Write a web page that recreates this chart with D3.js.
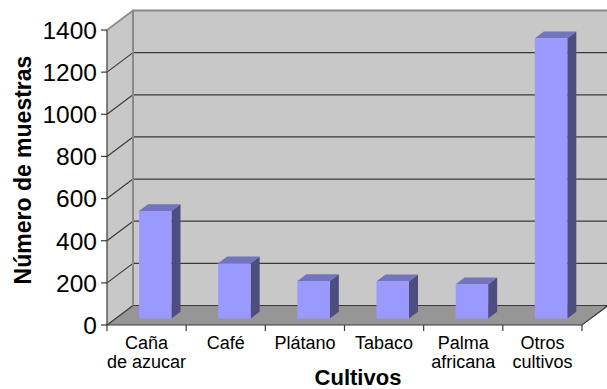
<!DOCTYPE html>
<html>
<head>
<meta charset="utf-8">
<script src="https://cdn.jsdelivr.net/npm/d3@7"></script>
<style>
  html, body { margin: 0; padding: 0; background: #ffffff; }
  svg { display: block; font-family: "Liberation Sans", Arial, sans-serif; }
</style>
</head>
<body>
<svg id="chart" width="607" height="389"></svg>
<script>
// Crop sample counts
const categories = ["Caña\nde azucar", "Café", "Plátano", "Tabaco", "Palma\nafricana", "Otros\ncultivos"];
const values = [510, 262, 178, 177, 162, 1330];
const yTicks = [0, 200, 400, 600, 800, 1000, 1200, 1400];
const yTitle = "Número de muestras";
const xTitle = "Cultivos";

const svg = d3.select("#chart");

// Front plane of the plot and the depth vector to the back wall
const plotLeft = 107, plotRight = 582, plotBottom = 325, plotTop = 30;
const depth = { dx: 26, dy: -19.5 };

const y = d3.scaleLinear().domain([0, 1400]).range([plotBottom, plotTop]);
const x = d3.scaleBand().domain(d3.range(categories.length))
  .range([plotLeft, plotRight]).paddingInner(0.59).paddingOuter(0.295);
const edge = d3.scaleLinear().domain([0, categories.length]).range([plotLeft, plotRight]);

const off = (p, f) => [p[0] + depth.dx * f, p[1] + depth.dy * f];
const poly = pts => pts.map(p => p.join(",")).join(" ");

const wallFill = "#c8c8c8", floorFill = "#969696", frameStroke = "#8a8a8a";

// Back wall
const bx0 = plotLeft + depth.dx, bx1 = plotRight + depth.dx + 2;
svg.append("rect")
  .attr("x", bx0).attr("y", y(1400) + depth.dy)
  .attr("width", bx1 - bx0).attr("height", y(0) - y(1400))
  .attr("fill", wallFill);

// Left side wall
svg.append("polygon")
  .attr("points", poly([[plotLeft, y(0)], [plotLeft, y(1400)], off([plotLeft, y(1400)], 1), off([plotLeft, y(0)], 1)]))
  .attr("fill", wallFill);

// Floor
svg.append("polygon")
  .attr("points", poly([[plotLeft, y(0)], off([plotLeft, y(0)], 1), [bx1, y(0) + depth.dy], [plotRight, y(0)]]))
  .attr("fill", floorFill);

// Gridlines: back wall horizontals and side wall diagonals
const grid = svg.append("g");
yTicks.forEach(t => {
  const by = y(t) + depth.dy;
  if (t < 1400) {
    grid.append("line").attr("x1", bx0).attr("x2", bx1)
      .attr("y1", by).attr("y2", by)
      .attr("stroke", "#3a3a3a").attr("stroke-width", 1.2);
  }
  grid.append("line").attr("x1", plotLeft).attr("y1", y(t))
    .attr("x2", bx0).attr("y2", by)
    .attr("stroke", t === 1400 ? frameStroke : "#3a3a3a")
    .attr("stroke-width", t === 1400 ? 1.6 : 1.2);
});

// Wall frame edges
svg.append("polyline")
  .attr("points", poly([[bx0, y(0) + depth.dy], [bx0, y(1400) + depth.dy], [bx1, y(1400) + depth.dy]]))
  .attr("fill", "none").attr("stroke", frameStroke).attr("stroke-width", 2);

// Floor front and right edges
svg.append("polyline")
  .attr("points", poly([[plotLeft, y(0)], [plotRight, y(0)], off([plotRight, y(0)], 1)]))
  .attr("fill", "none").attr("stroke", "#3a3a3a").attr("stroke-width", 1.2);

// Bars as prisms: front face, side face, top face
const f1 = 0.333, f2 = 0.68;
const bars = svg.append("g");
values.forEach((v, i) => {
  const x0 = x(i), x1 = x(i) + x.bandwidth();
  const a = off([x0, y(v)], f1), b = off([x1, y(v)], f1);
  const c = off([x1, y(0)], f1), d = off([x0, y(0)], f1);
  const b2 = off([x1, y(v)], f2), c2 = off([x1, y(0)], f2), a2 = off([x0, y(v)], f2);
  bars.append("polygon").attr("points", poly([b, b2, c2, c])).attr("fill", "#4d4d80");
  bars.append("polygon").attr("points", poly([a, a2, b2, b])).attr("fill", "#7373c0");
  bars.append("polygon").attr("points", poly([a, b, c, d])).attr("fill", "#9999ff");
});

// Value axis
const yAxis = svg.append("g");
yAxis.append("line").attr("x1", plotLeft).attr("x2", plotLeft)
  .attr("y1", y(0)).attr("y2", y(1400))
  .attr("stroke", "#3a3a3a").attr("stroke-width", 1.2);
yTicks.forEach(t => {
  yAxis.append("line").attr("x1", plotLeft - 6).attr("x2", plotLeft)
    .attr("y1", y(t)).attr("y2", y(t))
    .attr("stroke", "#3a3a3a").attr("stroke-width", 1.2);
  yAxis.append("text").attr("x", plotLeft - 10).attr("y", y(t))
    .attr("dy", "0.36em").attr("text-anchor", "end")
    .attr("font-size", 24.5).attr("fill", "#000").text(t);
});

// Category axis ticks and labels
const xAxis = svg.append("g");
d3.range(categories.length + 1).forEach(k => {
  xAxis.append("line").attr("x1", edge(k)).attr("x2", edge(k))
    .attr("y1", plotBottom).attr("y2", plotBottom + 6)
    .attr("stroke", "#3a3a3a").attr("stroke-width", 1.2);
});
categories.forEach((c, i) => {
  const t = xAxis.append("text").attr("text-anchor", "middle")
    .attr("font-size", 18).attr("fill", "#000");
  c.split("\n").forEach((line, j) => {
    t.append("tspan").attr("x", (edge(i) + edge(i + 1)) / 2)
      .attr("y", 348.5 + j * 19).text(line);
  });
});

// Axis titles
svg.append("text").attr("x", 358).attr("y", 384.5)
  .attr("text-anchor", "middle").attr("font-size", 22).attr("font-weight", "bold")
  .text(xTitle);
svg.append("text")
  .attr("transform", "translate(31,170) rotate(-90)")
  .attr("text-anchor", "middle").attr("font-size", 23).attr("font-weight", "bold")
  .text(yTitle);
</script>
</body>
</html>
